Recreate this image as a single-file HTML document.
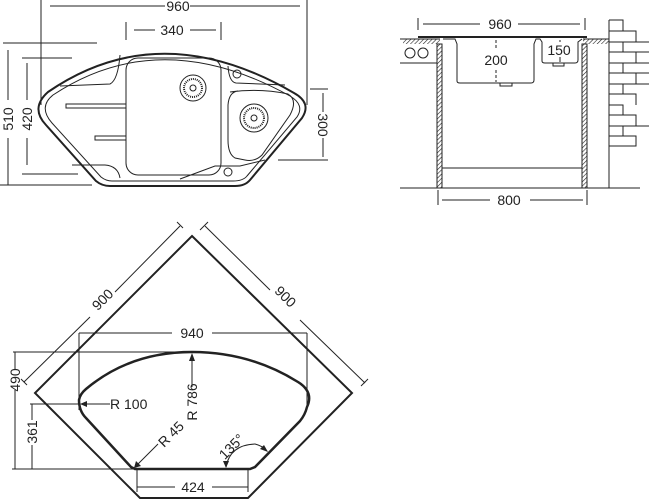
<!DOCTYPE html>
<html><head><meta charset="utf-8"><style>
html,body{margin:0;padding:0;background:#fff;}
svg{display:block;}
text{font-family:"Liberation Sans Narrow","Liberation Sans",sans-serif;font-size:14px;fill:#222;}
</style></head><body>
<svg width="649" height="502" viewBox="0 0 649 502" xmlns="http://www.w3.org/2000/svg">
<defs>
<pattern id="h" width="3" height="3" patternUnits="userSpaceOnUse" patternTransform="rotate(45)">
<rect width="3" height="3" fill="#fff"/><line x1="0" y1="0" x2="0" y2="3" stroke="#222" stroke-width="1.2"/></pattern>
</defs>
<g stroke="#222" fill="none" stroke-width="1">
<!-- TOP LEFT sink -->
<line x1="50" y1="6" x2="165" y2="6"/><line x1="190" y1="6" x2="300" y2="6"/>
<line x1="41" y1="0" x2="41" y2="105"/><line x1="307" y1="0" x2="307" y2="105"/>
<line x1="134" y1="30" x2="155" y2="30"/><line x1="190" y1="30" x2="216" y2="30"/>
<line x1="126" y1="22" x2="126" y2="40"/><line x1="221" y1="22" x2="221" y2="40"/>
<line x1="3" y1="43" x2="97" y2="43"/><line x1="0" y1="185" x2="92" y2="185"/>
<line x1="8" y1="50" x2="8" y2="100"/><line x1="8" y1="138" x2="8" y2="185"/>
<line x1="22" y1="58" x2="72" y2="58"/><line x1="22" y1="174" x2="78" y2="174"/>
<line x1="27" y1="63" x2="27" y2="100"/><line x1="27" y1="138" x2="27" y2="165"/>
<line x1="310" y1="89" x2="328" y2="89"/><line x1="278" y1="160" x2="328" y2="160"/>
<line x1="323" y1="93" x2="323" y2="112"/><line x1="323" y1="138" x2="323" y2="157"/>
<path d="M48,92 Q160,15 294,93 Q312,103 302,118 L250,180 Q245,186 235,186 L110,186 Q102,186 96,181 L46,125 Q30,108 48,92 Z" stroke-width="2"/>
<path d="M53,95 Q160,24 290,96 Q305,105 297,117 L247,176 Q243,181 233,181 L112,181 Q106,181 101,177 L52,123 Q38,107 53,95 Z"/>
<path d="M120,55 Q118,80 110,84 L60,86"/>
<path d="M228,66 Q229,82 236,83 L285,85"/>
<path d="M72,165 L105,165 Q118,166 120,178"/>
<path d="M180,179 L215,166 L240,166 L265,160"/>
<rect x="126" y="58" width="95" height="117" rx="12"/>
<path d="M230,92 Q260,88 288,94 Q298,100 290,115 L262,155 Q255,162 245,160 L235,158 Q228,154 228,140 L228,105 Q229,92 238,91 Z"/>
<circle cx="193" cy="88" r="13"/><circle cx="193" cy="88" r="9" stroke-width="2" stroke-dasharray="1 1"/><circle cx="193" cy="88" r="3"/>
<circle cx="254" cy="118" r="14"/><circle cx="254" cy="118" r="10" stroke-width="2" stroke-dasharray="1 1"/><circle cx="254" cy="118" r="3"/>
<circle cx="237" cy="74" r="4"/><circle cx="228" cy="172" r="4"/>
<rect x="66" y="104" width="60" height="4"/><rect x="95" y="136" width="31" height="4"/>
<!-- TOP RIGHT -->
<line x1="418" y1="18" x2="418" y2="30"/><line x1="585" y1="18" x2="585" y2="30"/>
<line x1="423" y1="24" x2="480" y2="24"/><line x1="518" y1="24" x2="580" y2="24"/>
<line x1="418" y1="37" x2="587" y2="37" stroke-width="2"/>
<rect x="403" y="39" width="37" height="5" fill="url(#h)" stroke="none"/>
<line x1="400" y1="39" x2="440" y2="39"/>
<rect x="583" y="39" width="26" height="5" fill="url(#h)" stroke="none"/>
<line x1="583" y1="39" x2="609" y2="39"/>
<rect x="437" y="44" width="5" height="144" fill="url(#h)"/>
<rect x="582" y="44" width="5" height="144" fill="url(#h)"/>
<circle cx="410" cy="53" r="5"/><circle cx="423" cy="53" r="5"/>
<line x1="400" y1="63" x2="437" y2="63"/>
<line x1="400" y1="188" x2="640" y2="188"/>
<line x1="442" y1="168" x2="582" y2="168"/>
<line x1="438" y1="190" x2="438" y2="205"/><line x1="587" y1="190" x2="587" y2="205"/>
<line x1="442" y1="200" x2="490" y2="200"/><line x1="530" y1="200" x2="583" y2="200"/>
<path d="M443,39 L455,39 L457,44 L457,81 Q457,83 460,83 L531,83 Q534,83 534,80 L534,44 L536,39 L540,39 L542,42 L542,61 Q542,63 545,63 L575,63 Q578,63 578,60 L578,42 L582,39"/>
<rect x="500" y="83" width="12" height="3"/><rect x="553" y="63" width="11" height="3"/>
<line x1="496" y1="40" x2="496" y2="50" stroke-dasharray="3 2"/><line x1="496" y1="70" x2="496" y2="82" stroke-dasharray="3 2"/>
<line x1="560" y1="40" x2="560" y2="42"/><line x1="560" y1="57" x2="560" y2="62"/>
<line x1="609" y1="20" x2="609" y2="188"/>
<path d="M609,20 H623 V31 M609,31 H636 V42 M609,42 H649 M623,42 V52 M609,52 H649 M636,52 V63 M609,63 H649 M623,63 V73 M609,73 H649 M636,73 V84 M609,84 H649 M623,84 V94 M609,94 H636 V105 M609,105 H623 V115 M609,115 H636 V126 M609,126 H649 M623,126 V136 M609,136 H636 V146 H609"/>
<!-- BOTTOM -->
<path d="M192,236 L352,393 L248,498 L140,498 L35,393 Z" stroke-width="2"/>
<path d="M192,352 Q250,352 298,382 Q314,392 307,407 Q305,415 300,421 L255,467 L250,469 L135,469 L131,467 L86,418 Q79,411 79,400 Q80,394 86,389 Q130,352 192,352 Z" stroke-width="2.5"/>
<line x1="79" y1="333" x2="79" y2="410"/><line x1="307" y1="333" x2="307" y2="410"/>
<line x1="79" y1="333" x2="172" y2="333"/><line x1="212" y1="333" x2="307" y2="333"/>
<line x1="13" y1="352" x2="192" y2="352"/><line x1="12" y1="469" x2="133" y2="469"/>
<line x1="15" y1="352" x2="15" y2="370"/><line x1="15" y1="390" x2="15" y2="469"/>
<line x1="30" y1="404" x2="79" y2="404"/>
<line x1="32" y1="404" x2="32" y2="420"/><line x1="32" y1="445" x2="32" y2="469"/>
<line x1="137" y1="469" x2="137" y2="492"/><line x1="248" y1="469" x2="248" y2="492"/>
<line x1="137" y1="487" x2="175" y2="487"/><line x1="212" y1="487" x2="248" y2="487"/>
<line x1="24" y1="382" x2="90" y2="317"/><line x1="115" y1="292" x2="180" y2="226"/>
<line x1="21" y1="379" x2="27" y2="385"/><line x1="177" y1="222" x2="183" y2="228"/>
<line x1="205" y1="226" x2="270" y2="290"/><line x1="300" y1="320" x2="365" y2="383"/>
<line x1="208" y1="222" x2="200" y2="230"/><line x1="368" y1="379" x2="361" y2="386"/>
<line x1="82" y1="404" x2="110" y2="404"/>
<line x1="192" y1="355" x2="192" y2="387"/>
<line x1="135" y1="467" x2="158" y2="444"/>
<path d="M226,467 Q230,445 255,444 Q263,446 267,451"/>
</g>
<g fill="#222">
<path d="M80,404 L87,401 L87,407 Z"/>
<path d="M192,353 L189,361 L195,361 Z"/>
<path d="M134,468 L136,461 L141,466 Z"/>
<path d="M226,468 L223,461 L229,461 Z"/>
<path d="M268,452 L260,449 L264,445 Z"/>
</g>
<text x="178" y="11" text-anchor="middle">960</text>
<text x="172" y="35" text-anchor="middle">340</text>
<text transform="translate(13,119) rotate(-90)" text-anchor="middle">510</text>
<text transform="translate(32,119) rotate(-90)" text-anchor="middle">420</text>
<text transform="translate(318,125) rotate(90)" text-anchor="middle">300</text>
<text x="500" y="29" text-anchor="middle">960</text>
<text x="496" y="65" text-anchor="middle">200</text>
<text x="559" y="55" text-anchor="middle">150</text>
<text x="509" y="205" text-anchor="middle">800</text>
<text transform="translate(106,303) rotate(-45)" text-anchor="middle">900</text>
<text transform="translate(282,300) rotate(45)" text-anchor="middle">900</text>
<text x="192" y="338" text-anchor="middle">940</text>
<text transform="translate(20,380) rotate(-90)" text-anchor="middle">490</text>
<text transform="translate(37,432) rotate(-90)" text-anchor="middle">361</text>
<text x="110" y="409">R 100</text>
<text transform="translate(197,402) rotate(-90)" text-anchor="middle">R 786</text>
<text transform="translate(164,448) rotate(-45)">R 45</text>
<text transform="translate(235,450) rotate(-45)" text-anchor="middle">135°</text>
<text x="193" y="492" text-anchor="middle">424</text>
</svg>
</body></html>
